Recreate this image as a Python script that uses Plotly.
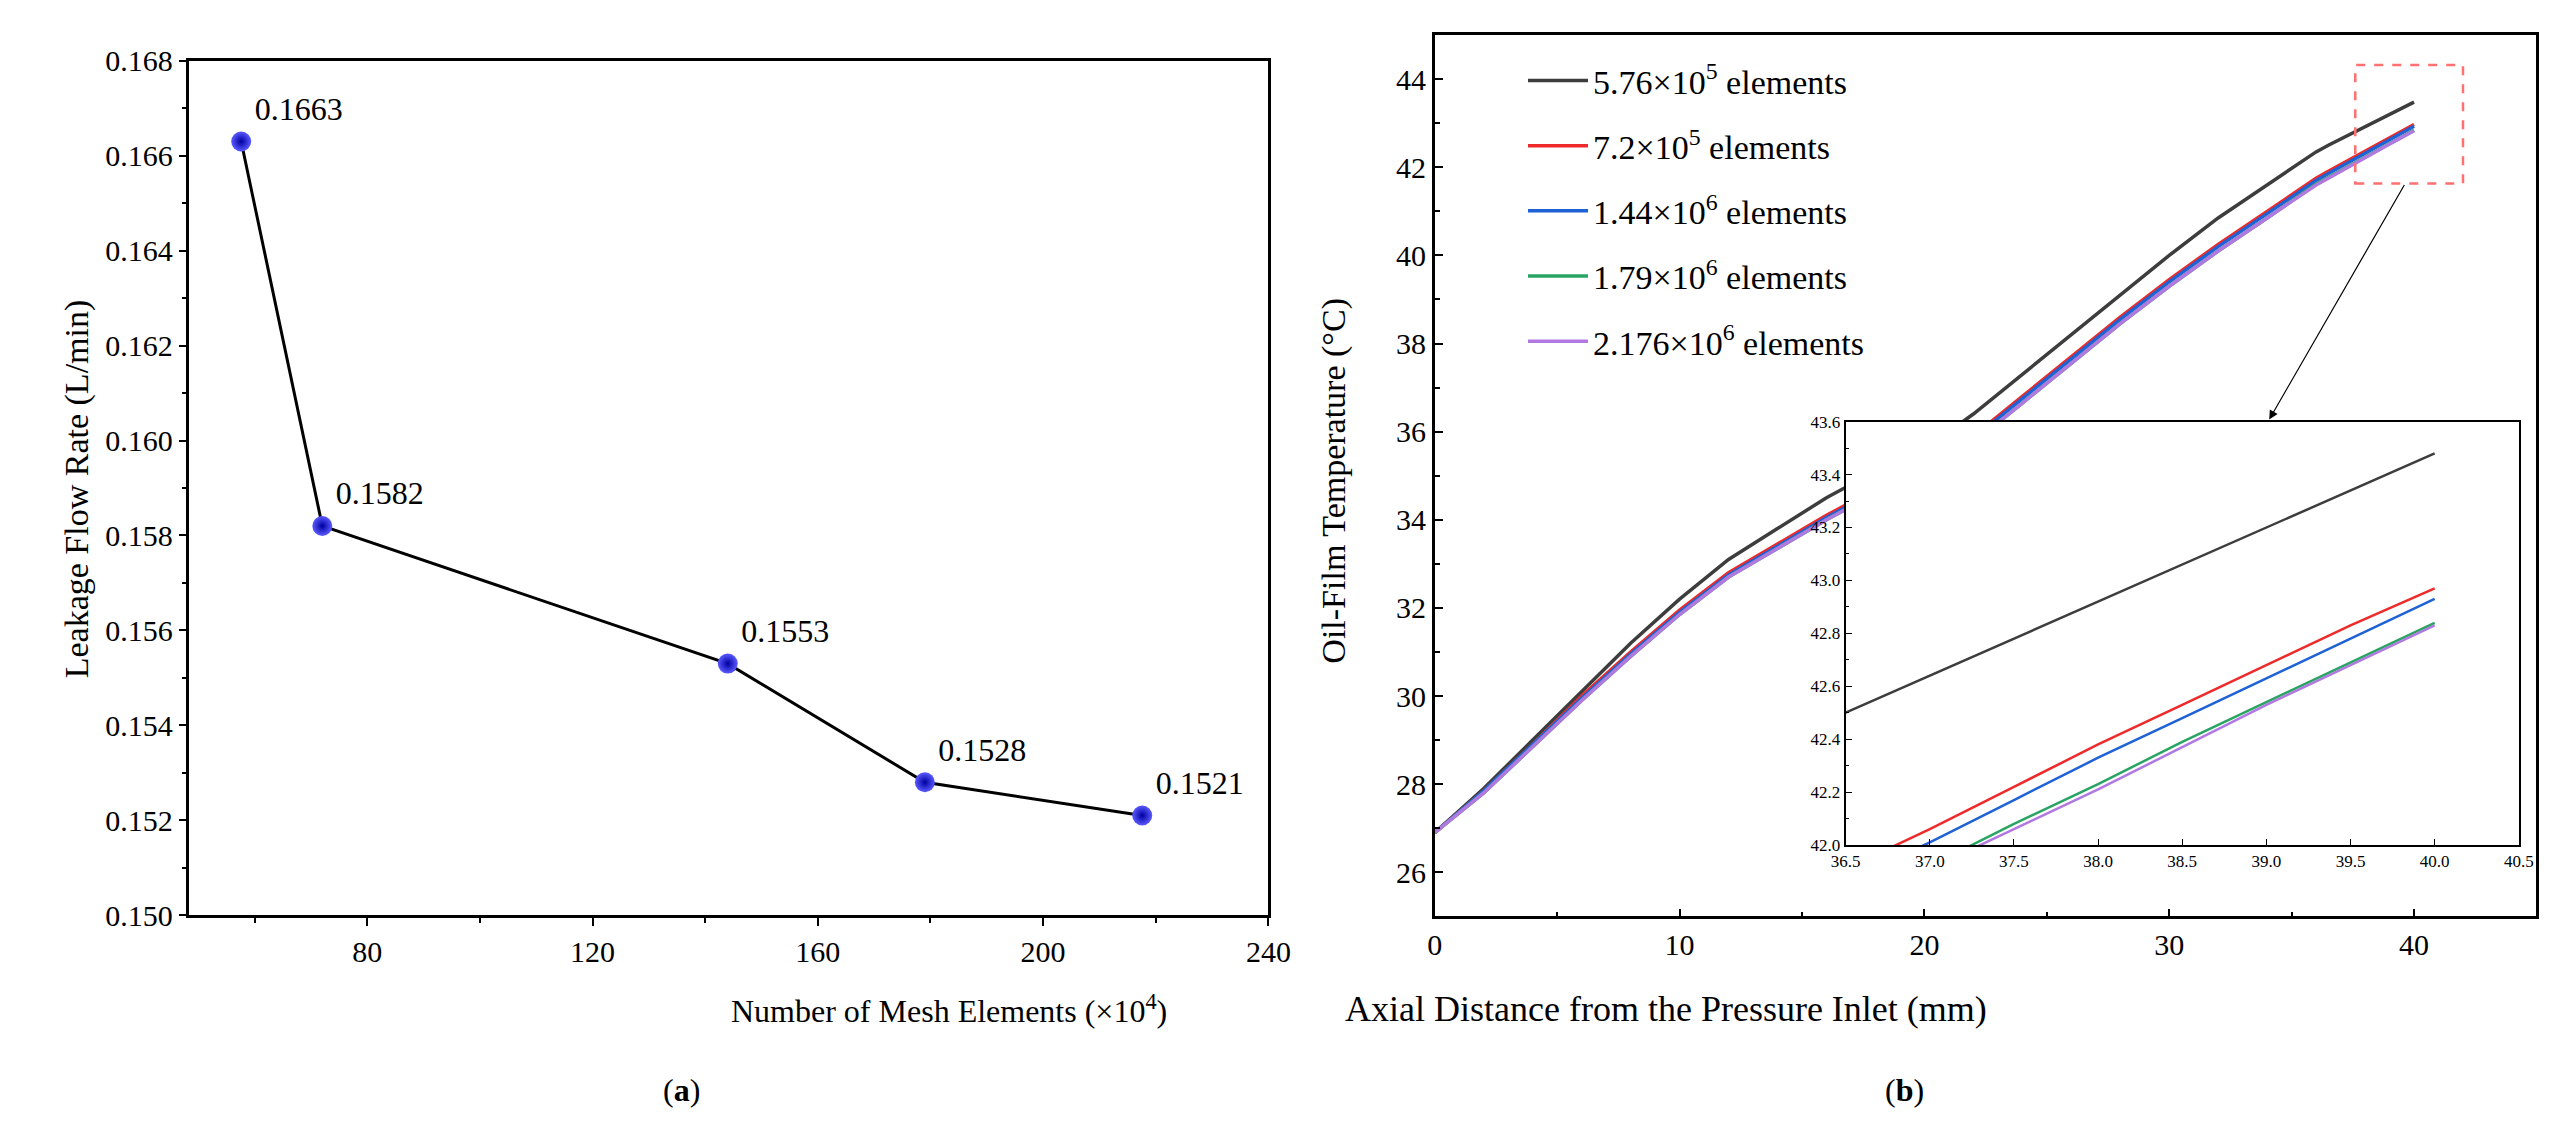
import plotly.graph_objects as go

# ---- data (a)
mesh = [57.6, 72, 144, 179, 217.6]
leak = [0.1663, 0.1582, 0.1553, 0.1528, 0.1521]
leak_labels = ["0.1663", "0.1582", "0.1553", "0.1528", "0.1521"]

# ---- data (b)
dist = [0, 2, 4, 6, 8, 10, 12, 14, 16, 18, 20, 21, 22, 24, 26, 28, 30, 32, 34, 36, 36.5, 37, 37.5, 38, 38.5, 39, 39.5, 40]
t_576 = [26.9, 27.9, 29.0, 30.1, 31.2, 32.2, 33.1, 33.8, 34.5, 35.1, 35.7, 36.0, 36.4, 37.3, 38.2, 39.1, 40.0, 40.85, 41.6, 42.35, 42.5, 42.64, 42.78, 42.92, 43.06, 43.2, 43.34, 43.48]
t_72 = [26.9, 27.85, 28.9, 30.0, 31.0, 31.95, 32.8, 33.45, 34.1, 34.7, 35.25, 35.5, 35.9, 36.8, 37.7, 38.6, 39.45, 40.25, 41.0, 41.75, 41.91, 42.06, 42.22, 42.38, 42.53, 42.68, 42.83, 42.97]
t_144 = [26.9, 27.85, 28.9, 29.95, 30.95, 31.9, 32.75, 33.4, 34.05, 34.65, 35.2, 35.45, 35.85, 36.75, 37.65, 38.55, 39.4, 40.2, 40.95, 41.7, 41.86, 42.01, 42.17, 42.33, 42.48, 42.63, 42.78, 42.93]
t_179 = [26.9, 27.8, 28.85, 29.9, 30.9, 31.85, 32.7, 33.35, 34.0, 34.6, 35.15, 35.4, 35.75, 36.65, 37.55, 38.45, 39.3, 40.1, 40.85, 41.62, 41.77, 41.92, 42.08, 42.23, 42.39, 42.54, 42.69, 42.84]
t_2176 = [26.9, 27.8, 28.85, 29.9, 30.9, 31.85, 32.7, 33.35, 34.0, 34.6, 35.15, 35.4, 35.75, 36.65, 37.55, 38.45, 39.3, 40.1, 40.85, 41.6, 41.75, 41.91, 42.06, 42.21, 42.37, 42.53, 42.68, 42.83]
series = [
    ("5.76×10<sup>5</sup> elements", t_576, "#3d3d3d"),
    ("7.2×10<sup>5</sup> elements", t_72, "#ee2a2a"),
    ("1.44×10<sup>6</sup> elements", t_144, "#1f62d6"),
    ("1.79×10<sup>6</sup> elements", t_179, "#2aa463"),
    ("2.176×10<sup>6</sup> elements", t_2176, "#b078e0"),
]

FONT = "Liberation Serif"
fig = go.Figure()

fig.add_trace(go.Scatter(
    x=mesh, y=leak, mode="lines+markers+text", text=leak_labels,
    textposition="top right", textfont=dict(size=32, family=FONT, color="black"),
    line=dict(color="black", width=3),
    marker=dict(size=20, color="#5a5aff", gradient=dict(type="radial", color="#0000a0"),
                line=dict(width=0)),
    xaxis="x", yaxis="y", showlegend=False, cliponaxis=False))

for i, (name, ys, col) in enumerate(series):
    fig.add_trace(go.Scatter(x=dist, y=ys, mode="lines", name=name,
                             line=dict(color=col, width=3.5), xaxis="x2", yaxis="y2",
                             legendgroup=str(i)))
for i, (name, ys, col) in enumerate(series):
    fig.add_trace(go.Scatter(x=dist, y=ys, mode="lines", line=dict(color=col, width=2.5),
                             xaxis="x3", yaxis="y3", showlegend=False))

ax_common = dict(showline=True, linecolor="black", linewidth=2.5, mirror=True,
                 showgrid=False, zeroline=False, tickcolor="black", ticklen=8, tickwidth=2,
                 tickfont=dict(family=FONT, size=30, color="black"))

fig.update_layout(
    width=2559, height=1146, paper_bgcolor="white", plot_bgcolor="white",
    margin=dict(l=0, r=0, t=0, b=0),
    font=dict(family=FONT, color="black"),
    xaxis=dict(domain=[0.066, 0.494], range=[48.4, 240], tickvals=[80, 120, 160, 200, 240],
               ticks="outside", anchor="y",
               minor=dict(dtick=20, ticks="outside", ticklen=5, tickcolor="black"), **ax_common),
    yaxis=dict(domain=[0.2, 0.967], range=[0.150, 0.168], dtick=0.002, tickformat=".3f",
               ticks="outside", anchor="x",
               minor=dict(dtick=0.001, ticks="outside", ticklen=5, tickcolor="black"), **ax_common),
    xaxis2=dict(domain=[0.56, 0.997], range=[0, 45], dtick=10, ticks="inside", anchor="y2",
                minor=dict(dtick=5, ticks="inside", ticklen=5, tickcolor="black"), **ax_common),
    yaxis2=dict(domain=[0.199, 0.99], range=[25, 45], dtick=2, ticks="inside", anchor="x2",
                minor=dict(dtick=1, ticks="inside", ticklen=5, tickcolor="black"), **ax_common),
    xaxis3=dict(domain=[0.723, 0.99], range=[36.5, 40.5], dtick=0.5, tickformat=".1f",
                ticks="inside", anchor="y3", showline=True, linecolor="black", linewidth=2,
                mirror=True, showgrid=False, zeroline=False, ticklen=6, tickcolor="black",
                tickfont=dict(family=FONT, size=17, color="black")),
    yaxis3=dict(domain=[0.263, 0.643], range=[42.0, 43.6], dtick=0.2, tickformat=".1f",
                ticks="inside", anchor="x3", showline=True, linecolor="black", linewidth=2,
                mirror=True, showgrid=False, zeroline=False, ticklen=6, tickcolor="black",
                minor=dict(dtick=0.1, ticks="inside", ticklen=3, tickcolor="black"),
                tickfont=dict(family=FONT, size=17, color="black")),
    legend=dict(x=0.595, y=0.975, xanchor="left", yanchor="top", bgcolor="rgba(0,0,0,0)",
                font=dict(family=FONT, size=34, color="black"), tracegroupgap=18,
                itemwidth=60),
)

fig.add_shape(type="rect", xref="x2", yref="y2", x0=37.6, x1=42.0, y0=41.63, y1=44.32,
              line=dict(color="#ff7070", width=2.5, dash="dash"))

ann = [
    dict(text="Leakage Flow Rate (L/min)", x=0.013, y=0.583, textangle=-90, size=34),
    dict(text="Number of Mesh Elements (×10<sup>4</sup>)", x=0.28, y=0.096, size=32),
    dict(text="Oil-Film Temperature (°C)", x=0.52, y=0.59, textangle=-90, size=34),
    dict(text="Axial Distance from the Pressure Inlet (mm)", x=0.78, y=0.096, size=36),
    dict(text="(<b>a</b>)", x=0.253, y=0.025, size=32),
    dict(text="(<b>b</b>)", x=0.755, y=0.025, size=32),
]
for a in ann:
    fig.add_annotation(text=a["text"], x=a["x"], y=a["y"], xref="paper", yref="paper",
                       showarrow=False, textangle=a.get("textangle", 0),
                       font=dict(family=FONT, size=a["size"], color="black"))

fig.add_annotation(x=0.891, y=0.645, ax=136, ay=-236, xref="paper", yref="paper",
                   axref="pixel", ayref="pixel", text="", showarrow=True,
                   arrowhead=2, arrowsize=1.5, arrowwidth=1.2, arrowcolor="black")

fig.write_html("out.html")
